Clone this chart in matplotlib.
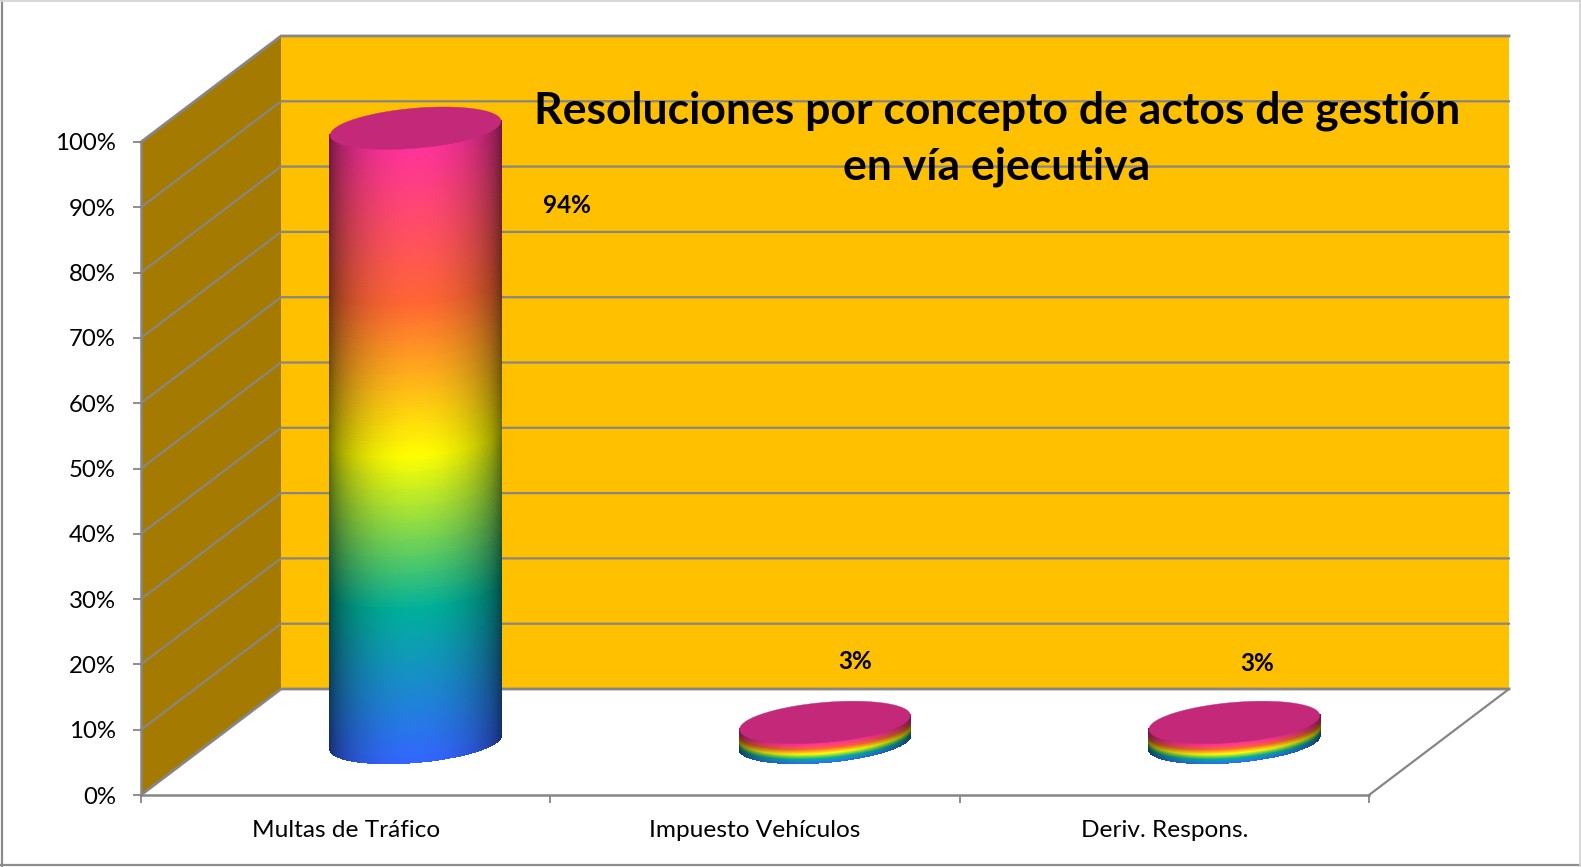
import numpy as np
import matplotlib
matplotlib.use('Agg')
import matplotlib.pyplot as plt
from matplotlib.colors import LinearSegmentedColormap
from matplotlib.patches import Polygon
from matplotlib.ticker import PercentFormatter

# ---------- data ----------
categories = ['Multas de Tráfico', 'Impuesto Vehículos', 'Deriv. Respons.']
values = [94, 3, 3]
value_labels = ['94%', '3%', '3%']
y_ticks = [0, 10, 20, 30, 40, 50, 60, 70, 80, 90, 100]
title_text = 'Resoluciones por concepto de actos de gestión\nen vía ejecutiva'

# ---------- style ----------
plt.rcParams['font.family'] = ['Lato', 'DejaVu Sans']
GRID = '#868686'
BACK = '#FFC000'
SIDE = '#A47B00'
TOP = '#C42878'
rainbow = LinearSegmentedColormap.from_list('rainbow2', [
    (0.00, '#3366FF'), (0.25, '#00B09A'), (0.50, '#FFFF00'),
    (0.75, '#FF6633'), (1.00, '#FF3399')])

# depth of the 3D box, in axis units (categories / percent)
DX = 140 / 409.33
DY = 106 / 6.53
RX = 0.197   # cylinder radius along the category axis
RD = 0.2     # cylinder radius along the depth axis
# label offset from the top of each cylinder, in pixels
label_off = [(151, -77), (30, 61), (23, 59)]


def proj(x, y, d):
    return x + d * DX, y + d * DY


def ellipse(cx, cy, t):
    return cx + RX * np.cos(t) + RD * DX * np.sin(t), cy + RD * DY * np.sin(t)


def cylinder(ax, cat, val):
    cx, cy = proj(cat + 0.5, 0, 0.5)
    t0 = np.arctan2(RD * DX, RX)
    half = np.hypot(RX, RD * DX)
    t = np.linspace(t0 + np.pi, t0 + 2 * np.pi, 260)
    h = np.linspace(0, 1, 220)
    ex, ey = ellipse(cx, cy, t)
    X = np.tile(ex, (len(h), 1))
    Y = ey[None, :] + h[:, None] * val
    hm = (h[:-1] + h[1:]) / 2
    sm = ((ex[:-1] + ex[1:]) / 2 - cx) / half
    shade = 0.4 + 0.6 * np.clip(1 - sm ** 2, 0, 1) ** 0.6
    C = rainbow(hm)[:, :3][:, None, :] * shade[None, :, None]
    mesh = ax.pcolormesh(X, Y, C, shading='flat', edgecolors='face', linewidth=0.2, zorder=4)
    mesh.set_clip_on(False)
    tt = np.linspace(0, 2 * np.pi, 200)
    tx, ty = ellipse(cx, cy + val, tt)
    ax.add_patch(Polygon(np.column_stack([tx, ty]), closed=True, fc=TOP, ec=TOP, lw=0.3,
                         zorder=5, clip_on=False))
    return cx, cy + val


# ---------- figure ----------
fig = plt.figure(figsize=(15.81, 8.67), dpi=100)
ax = fig.add_axes([141 / 1581, (867 - 795) / 867, 1228 / 1581, 653 / 867])
ax.patch.set_visible(False)

# walls
x_n = len(categories)
ax.add_patch(Polygon([proj(0, 0, 0), proj(0, 0, 1), proj(0, 100, 1), proj(0, 100, 0)],
                     fc=SIDE, ec='none', zorder=1, clip_on=False))
ax.add_patch(Polygon([proj(0, 0, 1), proj(x_n, 0, 1), proj(x_n, 100, 1), proj(0, 100, 1)],
                     fc=BACK, ec='none', zorder=1, clip_on=False))

# grid on side and back wall
for v in y_ticks:
    px, py = zip(proj(0, v, 0), proj(0, v, 1), proj(x_n, v, 1))
    lw = 2.0 if v in (0, 100) else 1.6
    ax.plot(px, py, color=GRID, lw=lw, zorder=2, clip_on=False, solid_joinstyle='miter')
px, py = zip(proj(x_n, 0, 0), proj(x_n, 0, 1))
ax.plot(px, py, color=GRID, lw=1.6, zorder=2, clip_on=False)

# cylinders and labels
for i, val in enumerate(values):
    tx, ty = cylinder(ax, i, val)
    ax.annotate(value_labels[i], (tx, ty), xytext=label_off[i], textcoords='offset pixels',
                ha='center', va='center', fontsize=17.5, fontweight='bold', color='black',
                zorder=6, annotation_clip=False)

# axes
ax.set_xlim(0, x_n)
ax.set_ylim(0, 100)
for s in ('top', 'right'):
    ax.spines[s].set_visible(False)
for s in ('left', 'bottom'):
    ax.spines[s].set_color(GRID)
    ax.spines[s].set_linewidth(1.8)
    ax.spines[s].set_zorder(3)
ax.set_yticks(y_ticks)
ax.yaxis.set_major_formatter(PercentFormatter(100, decimals=0))
ax.tick_params(axis='y', length=6, width=1.3, color=GRID, labelsize=17.3, pad=12, labelcolor='black')
ax.set_xticks(np.arange(x_n + 1))
ax.set_xticklabels([])
ax.tick_params(axis='x', which='major', length=6, width=1.3, color=GRID)
ax.set_xticks(np.arange(x_n) + 0.5, minor=True)
ax.set_xticklabels(categories, minor=True)
ax.tick_params(axis='x', which='minor', length=0, labelsize=17.6, pad=18, labelcolor='black')

# title
fig.text(997 / 1581, 1 - 139 / 867, title_text, ha='center', va='center', fontsize=32,
         fontweight='bold', color='black', linespacing=1.47, zorder=10)

# chart frame
frame = [((0.001, 0.001), (0, 1), '#8C8C8C', 1.6), ((0, 1), (0.002, 0.002), '#8C8C8C', 1.6),
         ((0, 1), (0.9993, 0.9993), '#D4D4D4', 1.3), ((0.9995, 0.9995), (0, 1), '#D4D4D4', 1.3)]
for fx, fy, c, w in frame:
    fig.add_artist(plt.Line2D(fx, fy, color=c, lw=w, transform=fig.transFigure))

fig.savefig('out.png', dpi=100)
